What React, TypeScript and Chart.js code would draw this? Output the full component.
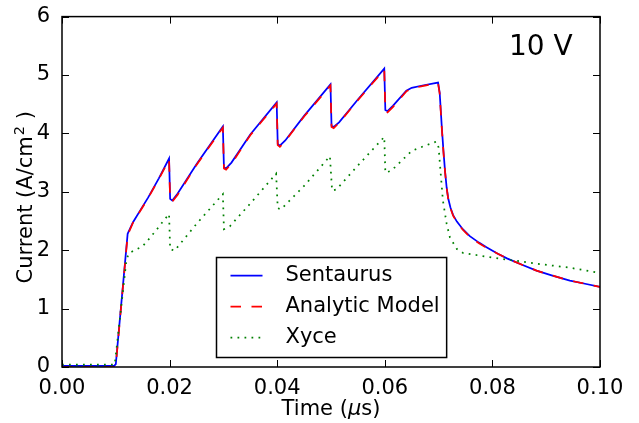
import React, { useEffect, useRef } from "react";
import { Chart, registerables } from "chart.js";

Chart.register(...registerables);

// ---- data ----
const sentaurusTime = [
  0, 0.0097, 0.01, 0.0122, 0.0132, 0.0148, 0.016, 0.018, 0.0199,
  0.0201, 0.0205, 0.0215, 0.025, 0.0299,
  0.0301, 0.0305, 0.0315, 0.035, 0.0399,
  0.0401, 0.0405, 0.0415, 0.045, 0.0499,
  0.0501, 0.0505, 0.0515, 0.055, 0.0599,
  0.0601, 0.0605, 0.0615, 0.064, 0.065, 0.067, 0.0699,
  0.0702, 0.0704, 0.0706, 0.0709, 0.0712, 0.0715, 0.0718, 0.0722, 0.0727, 0.0734,
  0.0745, 0.0758, 0.0775, 0.0789, 0.081, 0.0827, 0.0855, 0.0882, 0.091, 0.0944, 0.097, 0.1,
];
const sentaurusCurrent = [
  0.02, 0.02, 0.05, 2.28, 2.48, 2.72, 2.9, 3.23, 3.57,
  2.88, 2.85, 2.97, 3.47, 4.12,
  3.42, 3.4, 3.5, 3.98, 4.53,
  3.82, 3.79, 3.88, 4.3, 4.84,
  4.13, 4.11, 4.19, 4.58, 5.11,
  4.4, 4.38, 4.47, 4.73, 4.78, 4.82, 4.87,
  4.7, 4.4, 4.1, 3.7, 3.35, 3.07, 2.88, 2.73, 2.6, 2.49,
  2.36, 2.24, 2.13, 2.05, 1.94, 1.86, 1.75, 1.65, 1.57, 1.48, 1.43, 1.37,
];

const analyticTime = [
  0, 0.0097, 0.01, 0.0122, 0.0132, 0.0148, 0.016, 0.018, 0.0199,
  0.0201, 0.0205, 0.0215, 0.025, 0.0299,
  0.0301, 0.0305, 0.0315, 0.035, 0.0399,
  0.0401, 0.0405, 0.0415, 0.045, 0.0499,
  0.0501, 0.0505, 0.0515, 0.055, 0.0599,
  0.0601, 0.0605, 0.0615, 0.064, 0.065, 0.067, 0.0699,
  0.0702, 0.0704, 0.0706, 0.0709, 0.0712, 0.0715, 0.0718, 0.0722, 0.0727, 0.0734,
  0.0745, 0.0758, 0.0775, 0.0789, 0.081, 0.0827, 0.0855, 0.0882, 0.091, 0.0944, 0.097, 0.1,
];
const analyticCurrent = [
  0.0, 0.0, 0.03, 2.26, 2.47, 2.71, 2.89, 3.22, 3.55,
  2.86, 2.83, 2.95, 3.46, 4.1,
  3.4, 3.38, 3.48, 3.97, 4.51,
  3.8, 3.77, 3.87, 4.29, 4.82,
  4.11, 4.09, 4.18, 4.57, 5.09,
  4.38, 4.36, 4.45, 4.72, 4.77, 4.81, 4.86,
  4.68, 4.38, 4.08, 3.68, 3.34, 3.06, 2.87, 2.72, 2.59, 2.48,
  2.35, 2.23, 2.12, 2.04, 1.94, 1.86, 1.75, 1.65, 1.57, 1.48, 1.43, 1.37,
];

const xyceTime = [
  0, 0.0098, 0.012, 0.0125, 0.0137, 0.0149, 0.0157, 0.0174, 0.019, 0.0199,
  0.0201, 0.0209, 0.0218, 0.025, 0.0299,
  0.0301, 0.0312, 0.035, 0.0398,
  0.0401, 0.0407, 0.045, 0.0498,
  0.0502, 0.051, 0.055, 0.0599,
  0.0601, 0.0612, 0.0631, 0.065, 0.0672, 0.0696,
  0.07, 0.0704, 0.0708, 0.0715, 0.0721, 0.0734, 0.0746,
  0.0789, 0.0827, 0.0882, 0.0944, 0.1,
];
const xyceCurrent = [
  0.04, 0.04, 1.85, 1.95, 2.01, 2.06, 2.14, 2.33, 2.52, 2.62,
  2.02, 1.99, 2.09, 2.45, 2.96,
  2.36, 2.41, 2.8, 3.31,
  2.72, 2.7, 3.1, 3.61,
  3.02, 3.04, 3.45, 3.94,
  3.33, 3.36, 3.53, 3.7, 3.78, 3.86,
  3.76, 3.3, 2.85, 2.45, 2.22, 2.02, 1.95,
  1.89, 1.84, 1.77, 1.7, 1.61,
];

const xTickValues = [0, 0.02, 0.04, 0.06, 0.08, 0.1];
const yTickValues = [0, 1, 2, 3, 4, 5, 6];
const seriesLabels = ["Sentaurus", "Analytic Model", "Xyce"];
const annotationText = "10 V";

const FONT = '"DejaVu Sans", "Liberation Sans", sans-serif';
const LW = 1.75;
const DASHED = [10.5, 10.5];
const DOTTED = [1.75, 5.25];

function zip(xs: number[], ys: number[]) {
  return xs.map((x, i) => ({ x, y: ys[i] }));
}

const overlayPlugin = {
  id: "overlay",
  afterDatasetsDraw(chart: any) {
    const { ctx, chartArea: a, scales } = chart;
    const xs = scales.x;
    const ys = scales.y;
    ctx.save();

    // inward ticks on all four sides
    ctx.strokeStyle = "#000";
    ctx.lineWidth = 1;
    ctx.setLineDash([]);
    ctx.beginPath();
    for (const v of xTickValues) {
      const px = Math.round(xs.getPixelForValue(v)) + 0.5;
      ctx.moveTo(px, a.bottom);
      ctx.lineTo(px, a.bottom - 7);
      ctx.moveTo(px, a.top);
      ctx.lineTo(px, a.top + 7);
    }
    for (const v of yTickValues) {
      const py = Math.round(ys.getPixelForValue(v)) + 0.5;
      ctx.moveTo(a.left, py);
      ctx.lineTo(a.left + 7, py);
      ctx.moveTo(a.right, py);
      ctx.lineTo(a.right - 7, py);
    }
    ctx.stroke();

    // frame
    ctx.lineWidth = 1.5;
    ctx.strokeRect(a.left, a.top, a.right - a.left, a.bottom - a.top);

    // legend (lower center inside axes)
    ctx.font = `21px ${FONT}`;
    const textW = Math.max(...seriesLabels.map((s) => ctx.measureText(s).width));
    const boxW = 14 + 32 + 23 + textW + 7;
    const boxH = 100;
    const cx = (a.left + a.right) / 2;
    const bx = Math.round(cx - boxW / 2) + 0.5;
    const by = Math.round(a.bottom - 10 - boxH) + 0.5;
    ctx.fillStyle = "#fff";
    ctx.fillRect(bx, by, boxW, boxH);
    ctx.lineWidth = 1.5;
    ctx.strokeStyle = "#000";
    ctx.strokeRect(bx, by, boxW, boxH);
    const styles = [
      { color: "#0000ff", dash: [] as number[] },
      { color: "#ff0000", dash: DASHED },
      { color: "#008000", dash: DOTTED },
    ];
    seriesLabels.forEach((label, i) => {
      const ry = by + 18 + i * 31;
      ctx.strokeStyle = styles[i].color;
      ctx.lineWidth = LW;
      ctx.setLineDash(styles[i].dash);
      ctx.beginPath();
      ctx.moveTo(bx + 14, ry);
      ctx.lineTo(bx + 46, ry);
      ctx.stroke();
      ctx.setLineDash([]);
      ctx.fillStyle = "#000";
      ctx.textAlign = "left";
      ctx.textBaseline = "middle";
      ctx.fillText(label, bx + 69, ry);
    });

    // annotation
    ctx.font = `28px ${FONT}`;
    ctx.fillStyle = "#000";
    ctx.textAlign = "left";
    ctx.textBaseline = "alphabetic";
    ctx.fillText(annotationText, a.right - 91, a.top + 38);

    // x axis title: Time (μs)
    const xt1 = "Time (";
    const xt2 = "\u03bc";
    const xt3 = "s)";
    ctx.font = `21px ${FONT}`;
    const w1 = ctx.measureText(xt1).width;
    const w3 = ctx.measureText(xt3).width;
    ctx.font = `italic 21px ${FONT}`;
    const w2 = ctx.measureText(xt2).width;
    const x0 = (a.left + a.right) / 2 - (w1 + w2 + w3) / 2;
    const yb = 415;
    ctx.font = `21px ${FONT}`;
    ctx.fillText(xt1, x0, yb);
    ctx.font = `italic 21px ${FONT}`;
    ctx.fillText(xt2, x0 + w1, yb);
    ctx.font = `21px ${FONT}`;
    ctx.fillText(xt3, x0 + w1 + w2, yb);

    // y axis title: Current (A/cm^2 )
    const yt1 = "Current (A/cm";
    const yt2 = "2";
    const yt3 = " )";
    ctx.save();
    ctx.translate(32, (a.top + a.bottom) / 2 + 6);
    ctx.rotate(-Math.PI / 2);
    ctx.font = `21px ${FONT}`;
    const v1 = ctx.measureText(yt1).width;
    const v3 = ctx.measureText(yt3).width;
    ctx.font = `14.5px ${FONT}`;
    const v2 = ctx.measureText(yt2).width;
    const s0 = -(v1 + v2 + v3) / 2;
    ctx.font = `21px ${FONT}`;
    ctx.fillText(yt1, s0, 0);
    ctx.font = `14.5px ${FONT}`;
    ctx.fillText(yt2, s0 + v1 + 1, -8);
    ctx.font = `21px ${FONT}`;
    ctx.fillText(yt3, s0 + v1 + v2 + 1, 0);
    ctx.restore();

    ctx.restore();
  },
};

export default function App() {
  const canvasRef = useRef<HTMLCanvasElement | null>(null);

  useEffect(() => {
    if (!canvasRef.current) return;
    const chart = new Chart(canvasRef.current, {
      type: "line",
      data: {
        datasets: [
          {
            label: seriesLabels[0],
            data: zip(sentaurusTime, sentaurusCurrent),
            borderColor: "#0000ff",
            borderWidth: LW,
            pointRadius: 0,
            tension: 0,
            fill: false,
            order: 3,
          },
          {
            label: seriesLabels[1],
            data: zip(analyticTime, analyticCurrent),
            borderColor: "#ff0000",
            borderWidth: LW,
            borderDash: DASHED,
            pointRadius: 0,
            tension: 0,
            fill: false,
            order: 2,
          },
          {
            label: seriesLabels[2],
            data: zip(xyceTime, xyceCurrent),
            borderColor: "#008000",
            borderWidth: LW,
            borderDash: DOTTED,
            pointRadius: 0,
            tension: 0,
            fill: false,
            order: 1,
          },
        ],
      },
      options: {
        animation: false,
        responsive: true,
        maintainAspectRatio: false,
        layout: { padding: { top: 13, right: 39, left: 0, bottom: 0 } },
        plugins: {
          legend: { display: false },
          tooltip: { enabled: false },
        },
        scales: {
          x: {
            type: "linear",
            min: 0,
            max: 0.1,
            grid: { display: false },
            border: { display: false },
            ticks: {
              stepSize: 0.02,
              padding: 1,
              color: "#000",
              maxRotation: 0,
              font: { family: FONT, size: 21 },
              callback: (v: any) => Number(v).toFixed(2),
            },
            afterFit: (s: any) => {
              s.height = 56;
            },
          },
          y: {
            type: "linear",
            min: 0,
            max: 6,
            grid: { display: false },
            border: { display: false },
            ticks: {
              stepSize: 1,
              padding: 4,
              color: "#000",
              font: { family: FONT, size: 21 },
              callback: (v: any) => String(v),
            },
            afterFit: (s: any) => {
              s.width = 62;
            },
          },
        },
      },
      plugins: [overlayPlugin],
    });
    return () => chart.destroy();
  }, []);

  return (
    <div
      style={{
        position: "absolute",
        left: 0,
        top: 0,
        width: 639,
        height: 423,
        background: "#fff",
      }}
    >
      <canvas ref={canvasRef} />
    </div>
  );
}
